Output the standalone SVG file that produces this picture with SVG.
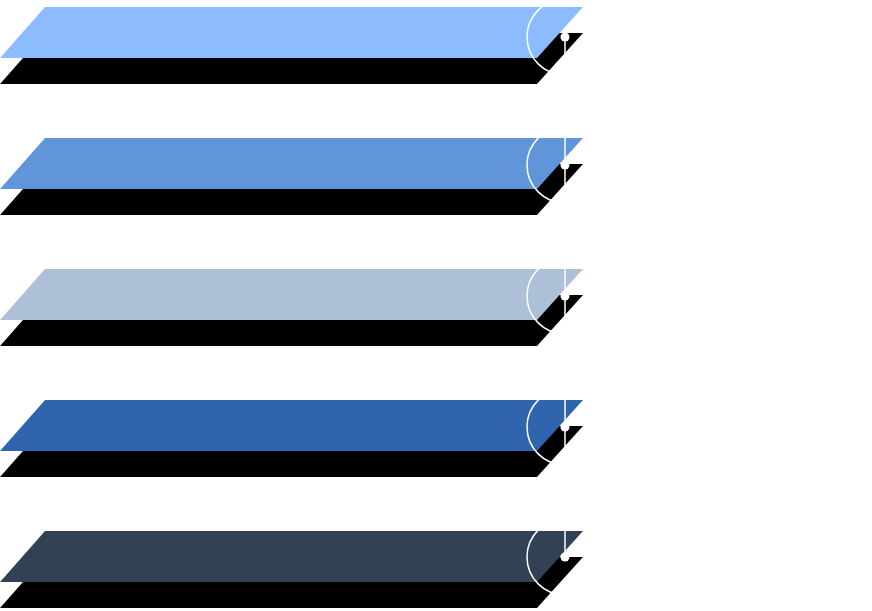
<svg xmlns="http://www.w3.org/2000/svg" width="872" height="611" viewBox="0 0 872 611">
<defs>
<style>
.shadow{fill:#000000}
.ring{fill:none;stroke:#ffffff;stroke-width:1.5}
.dot{fill:#ffffff}
.lbl{font-family:"Liberation Sans",Arial,sans-serif;font-size:17px;fill:#ffffff}
.conn{stroke:#ffffff;stroke-width:1.5;fill:none}
</style>
<polygon id="band" points="45,0 583,0 537,51 0,51"/>
</defs>
<rect width="872" height="611" fill="#ffffff"/>
<g id="band1">
<use href="#band" class="shadow" transform="translate(0,33)"/>
<use href="#band" fill="#8cbcfe" transform="translate(0,7)"/>
<circle class="ring" cx="565" cy="37" r="38"/>
<circle class="dot" cx="565" cy="37" r="4.5"/>
<text class="lbl" x="638" y="43">Regular File</text>
</g>
<g id="band2">
<use href="#band" class="shadow" transform="translate(0,164)"/>
<use href="#band" fill="#6195da" transform="translate(0,138)"/>
<circle class="ring" cx="565" cy="165" r="38"/>
<circle class="dot" cx="565" cy="165" r="4.5"/>
<text class="lbl" x="645" y="171">Directory</text>
</g>
<g id="band3">
<use href="#band" class="shadow" transform="translate(0,295)"/>
<use href="#band" fill="#aebfd8" transform="translate(0,269)"/>
<circle class="ring" cx="565" cy="296" r="38"/>
<circle class="dot" cx="565" cy="296" r="4.5"/>
<text class="lbl" x="630" y="302">Pipe File</text>
</g>
<g id="band4">
<use href="#band" class="shadow" transform="translate(0,426)"/>
<use href="#band" fill="#3064ac" transform="translate(0,400)"/>
<circle class="ring" cx="565" cy="427" r="38"/>
<circle class="dot" cx="565" cy="427" r="4.5"/>
<text class="lbl" x="647" y="433">Character Device File</text>
</g>
<g id="band5">
<use href="#band" class="shadow" transform="translate(0,557)"/>
<use href="#band" fill="#334155" transform="translate(0,531)"/>
<circle class="ring" cx="565" cy="557" r="38"/>
<circle class="dot" cx="565" cy="557" r="4.5"/>
<text class="lbl" x="638" y="563">Socket File</text>
</g>
<g id="connectors">
<line class="conn" x1="565" y1="37" x2="565" y2="557"/>
</g>
</svg>
